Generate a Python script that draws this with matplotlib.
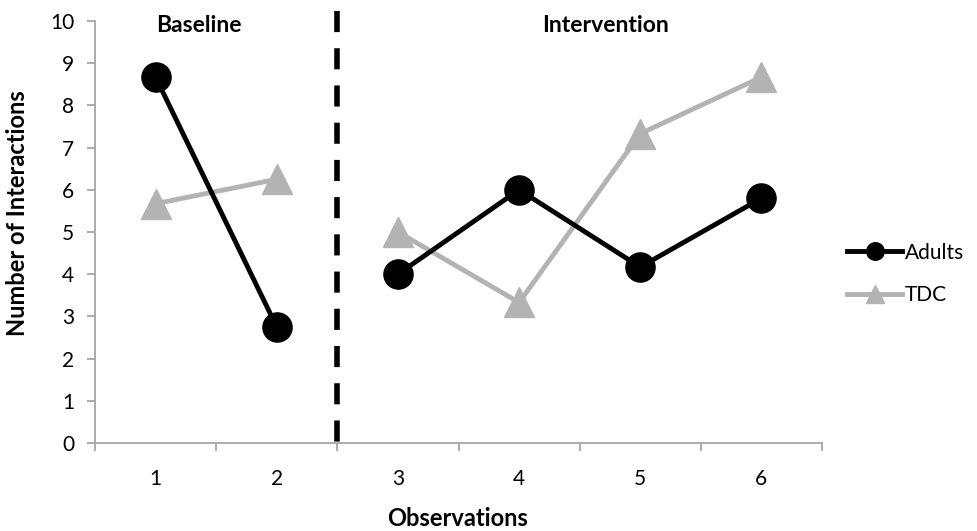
import matplotlib
matplotlib.use("Agg")
import matplotlib.pyplot as plt
from matplotlib.ticker import FixedLocator, NullFormatter, FixedFormatter

plt.rcParams['font.family'] = ['Lato', 'DejaVu Sans']

observations = [1, 2, 3, 4, 5, 6]
adults = [8.67, 2.75, 4.0, 6.0, 4.17, 5.8]
tdc = [5.67, 6.25, 5.0, 3.33, 7.33, 8.67]
phase_labels = ["Baseline", "Intervention"]

fig = plt.figure(figsize=(9.77, 5.31), dpi=100)
ax = fig.add_axes([95/977, 1-443/531, (822-95)/977, (443-21)/531])

gray_axis = '#a6a6a6'
ax.plot(observations[:2], adults[:2], color='black', lw=3.5, marker='o', ms=21, zorder=4)
ax.plot(observations[2:], adults[2:], color='black', lw=3.5, marker='o', ms=21, zorder=4, label='Adults')
ax.plot(observations[:2], tdc[:2], color='#b3b3b3', lw=3.5, marker='^', ms=22, zorder=3)
ax.plot(observations[2:], tdc[2:], color='#b3b3b3', lw=3.5, marker='^', ms=22, zorder=3, label='TDC')

ax.plot([2.5, 2.5], [10.24, 0], color='black', lw=4, ls=(0, (3.8, 2.9)), clip_on=False, zorder=5)

ax.set_xlim(0.5, 6.5)
ax.set_ylim(0, 10)
ax.xaxis.set_major_locator(FixedLocator([x + 0.5 for x in [0] + observations]))
ax.xaxis.set_major_formatter(NullFormatter())
ax.xaxis.set_minor_locator(FixedLocator(observations))
ax.xaxis.set_minor_formatter(FixedFormatter([str(o) for o in observations]))
ax.tick_params(axis='x', which='major', length=6, color=gray_axis, width=1.3, direction='out')
ax.tick_params(axis='x', which='minor', length=0, pad=19, labelsize=15)
ax.set_yticks(range(0, 11))
ax.tick_params(axis='y', length=6, color=gray_axis, width=1.3, direction='out', labelsize=15, pad=9)

for s in ['top', 'right']:
    ax.spines[s].set_visible(False)
for s in ['left', 'bottom']:
    ax.spines[s].set_color(gray_axis)
    ax.spines[s].set_linewidth(1.3)

ax.text(1.36, 9.74, phase_labels[0], ha='center', va='baseline', fontsize=16.5, fontweight='bold')
ax.text(4.71, 9.74, phase_labels[1], ha='center', va='baseline', fontsize=16.5, fontweight='bold')

fig.text(18/977, 1-213/531, 'Number of Interactions', rotation=90, ha='center', va='center',
         fontsize=17, fontweight='bold')
fig.text(458/977, 1-519/531, 'Observations', ha='center', va='center', fontsize=17, fontweight='bold')

leg = ax.legend(loc='center left', bbox_to_anchor=(847/977, 1-274/531), bbox_transform=fig.transFigure,
                frameon=False, markerscale=0.6, handlelength=2.64, handletextpad=0.15,
                labelspacing=1.1, fontsize=15, borderaxespad=0, borderpad=0)

fig.savefig('out.png', dpi=100)
